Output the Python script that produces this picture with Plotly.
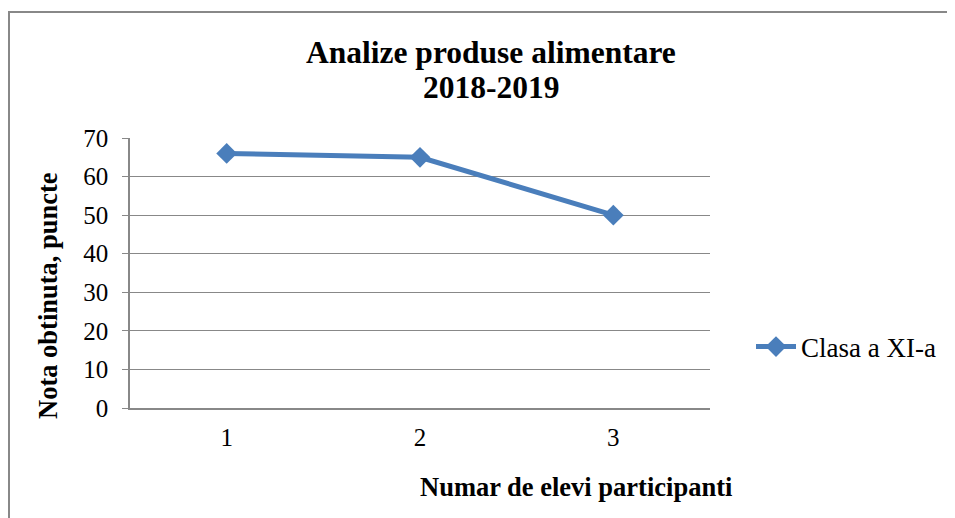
import plotly.graph_objects as go

categories = ["1", "2", "3"]
values = [66, 65, 50]
series_name = "Clasa a XI-a"
title_lines = ["Analize produse alimentare", "2018-2019"]
x_title = "Numar de elevi participanti"
y_title = "Nota obtinuta, puncte"
y_ticks = [0, 10, 20, 30, 40, 50, 60, 70]

FONT = "Liberation Serif, Times New Roman, serif"
BLUE = "#4A7EBB"
GRID = "#888888"

# page body adds an 8px margin; compensate so the picture lands in place
OFF = 8
W, H = 955, 518
L, R, T, B = 130 - OFF, 245 + OFF, 138 - OFF, 110 + OFF
PW, PH = W - L - R, H - T - B

def px(x):
    return (x - OFF - L) / PW

def py(y):
    return (H - B - (y - OFF)) / PH

fig = go.Figure()
fig.add_trace(go.Scatter(
    x=categories, y=values, name=series_name, mode="lines+markers",
    line=dict(color=BLUE, width=5),
    marker=dict(symbol="diamond", size=16, color=BLUE),
))

fig.update_layout(
    width=W, height=H,
    margin=dict(l=L, r=R, t=T, b=B),
    paper_bgcolor="white", plot_bgcolor="white",
    font=dict(family=FONT, size=25, color="black"),
    showlegend=True,
    legend=dict(x=px(751), y=py(347), xanchor="left", yanchor="middle",
                font=dict(family=FONT, size=27, color="black"),
                bgcolor="rgba(0,0,0,0)", itemwidth=40),
    xaxis=dict(type="category", range=[-0.5, 2.5], showgrid=False,
               showline=True, linecolor=GRID, linewidth=1.5,
               ticks="", ticklabelstandoff=6,
               tickfont=dict(family=FONT, size=25, color="black")),
    yaxis=dict(range=[0, 70], tickvals=y_ticks, showgrid=True,
               gridcolor=GRID, gridwidth=1.3,
               showline=True, linecolor=GRID, linewidth=1.5,
               ticks="outside", ticklen=6, tickcolor=GRID, tickwidth=1.3,
               ticklabelstandoff=9, zeroline=False,
               tickfont=dict(family=FONT, size=25, color="black")),
    annotations=[
        dict(text="<b>%s</b>" % title_lines[0], xref="paper", yref="paper",
             x=px(491), y=py(52), xanchor="center", yanchor="middle",
             showarrow=False, font=dict(family=FONT, size=31.5, color="black")),
        dict(text="<b>%s</b>" % title_lines[1], xref="paper", yref="paper",
             x=px(491), y=py(87), xanchor="center", yanchor="middle",
             showarrow=False, font=dict(family=FONT, size=31.5, color="black")),
        dict(text="<b>%s</b>" % x_title, xref="paper", yref="paper",
             x=px(576), y=py(487), xanchor="center", yanchor="middle",
             showarrow=False, font=dict(family=FONT, size=26.5, color="black")),
        dict(text="<b>%s</b>" % y_title, xref="paper", yref="paper",
             x=px(48), y=py(296), xanchor="center", yanchor="middle",
             textangle=-90,
             showarrow=False, font=dict(family=FONT, size=26.5, color="black")),
    ],
    shapes=[
        dict(type="rect", xref="paper", yref="paper",
             x0=px(9), x1=px(975), y0=py(540), y1=py(12),
             line=dict(color=GRID, width=2), fillcolor="rgba(0,0,0,0)",
             layer="below"),
    ],
)

fig.write_html("out.html")
